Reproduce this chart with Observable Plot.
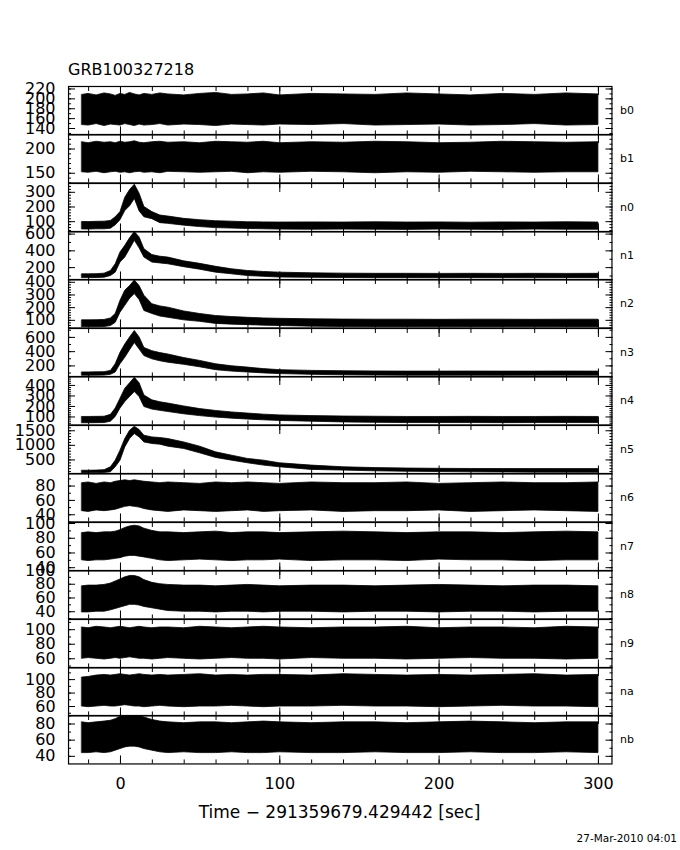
<!DOCTYPE html>
<html><head><meta charset="utf-8">
<script src="https://cdn.jsdelivr.net/npm/d3@7"></script>
<script src="https://cdn.jsdelivr.net/npm/@observablehq/plot@0.6"></script>
<style>
body{margin:0;background:#fff;}
#wrap{position:relative;width:680px;height:850px;background:#fff;overflow:hidden;font-family:"DejaVu Sans",sans-serif;color:#000;}
#wrap svg{position:absolute;left:0;overflow:visible;background:transparent;}
.txt{position:absolute;white-space:nowrap;line-height:1;color:#000;}
</style></head><body><div id="wrap"></div>
<script>
// ---- data ----
const title = "GRB100327218";
const xTitle = "Time − 291359679.429442 [sec]";
const stamp = "27-Mar-2010 04:01";
const T = [-24, -20, -15, -10, -6, -3, 0, 3, 6, 9, 12, 15, 20, 25, 30, 40, 50, 60, 70, 80, 90, 100, 120, 140, 160, 180, 200, 220, 240, 260, 280, 300];
const xMinorTicks = [-20, 0, 20, 40, 60, 80, 100, 120, 140, 160, 180, 200, 220, 240, 260, 280, 300];
const xMajorTicks = [0, 100, 200, 300];
const detectors = ["b0", "b1", "n0", "n1", "n2", "n3", "n4", "n5", "n6", "n7", "n8", "n9", "na", "nb"];

const b0Hi = [208, 210, 207, 211, 209, 206, 210, 208, 212, 209, 207, 210, 208, 211, 209, 207, 210, 212, 208, 209, 211, 207, 210, 209, 208, 211, 209, 207, 210, 208, 211, 209];
const b0Lo = [147, 146, 149, 145, 148, 147, 146, 149, 147, 145, 148, 146, 147, 149, 146, 148, 147, 145, 148, 147, 146, 148, 147, 149, 146, 147, 148, 146, 147, 149, 146, 147];
const b1Hi = [214, 212, 215, 213, 214, 212, 215, 213, 214, 216, 213, 212, 214, 215, 213, 214, 212, 215, 214, 213, 215, 212, 214, 213, 215, 214, 212, 213, 215, 214, 213, 214];
const b1Lo = [152, 151, 153, 150, 152, 153, 151, 152, 150, 152, 153, 151, 152, 150, 153, 152, 151, 152, 153, 150, 152, 151, 153, 152, 150, 152, 151, 153, 152, 151, 152, 152];
const n0Hi = [98, 97, 99, 100, 105, 130, 165, 263, 315, 352, 290, 200, 165, 142, 135, 119, 110, 103, 100, 96, 95, 94, 95, 94, 96, 94, 95, 93, 95, 94, 96, 94];
const n0Lo = [47, 46, 48, 48, 52, 75, 110, 172, 205, 255, 170, 130, 117, 90, 85, 73, 63, 56, 53, 50, 48, 46, 45, 46, 45, 44, 46, 45, 44, 46, 45, 45];
const n1Hi = [120, 120, 122, 128, 160, 240, 380, 460, 550, 625, 560, 420, 350, 330, 320, 275, 245, 210, 180, 160, 148, 140, 132, 128, 126, 126, 125, 126, 125, 126, 125, 126];
const n1Lo = [75, 75, 76, 80, 100, 140, 260, 320, 420, 520, 430, 320, 260, 250, 240, 205, 175, 140, 120, 100, 90, 82, 78, 76, 74, 74, 73, 74, 74, 73, 74, 74];
const n2Hi = [100, 100, 101, 103, 115, 150, 254, 334, 370, 414, 370, 294, 227, 210, 200, 170, 150, 134, 126, 120, 115, 112, 108, 106, 105, 105, 104, 105, 105, 104, 105, 105];
const n2Lo = [45, 45, 46, 47, 55, 80, 160, 214, 270, 307, 260, 174, 150, 130, 120, 100, 88, 72, 66, 62, 58, 55, 50, 47, 46, 46, 45, 46, 46, 45, 46, 46];
const n3Hi = [108, 108, 110, 112, 130, 223, 383, 500, 600, 690, 600, 452, 407, 380, 360, 310, 270, 223, 195, 176, 155, 140, 130, 125, 122, 120, 120, 121, 120, 120, 121, 120];
const n3Lo = [62, 62, 63, 64, 75, 107, 223, 314, 420, 521, 430, 338, 292, 265, 245, 215, 180, 140, 120, 107, 95, 85, 75, 68, 64, 62, 62, 62, 61, 62, 62, 62];
const n4Hi = [100, 100, 101, 102, 120, 180, 274, 368, 420, 473, 420, 305, 258, 240, 227, 200, 175, 157, 143, 132, 122, 115, 108, 104, 102, 100, 100, 101, 100, 100, 101, 100];
const n4Lo = [40, 40, 41, 42, 55, 100, 180, 242, 290, 337, 290, 195, 170, 158, 147, 125, 108, 94, 84, 75, 68, 62, 55, 48, 44, 42, 42, 42, 41, 42, 42, 42];
const n5Hi = [130, 130, 135, 150, 248, 476, 818, 1216, 1500, 1637, 1524, 1330, 1272, 1250, 1216, 1100, 954, 760, 647, 534, 476, 385, 306, 248, 220, 205, 195, 190, 188, 186, 185, 185];
const n5Lo = [45, 45, 48, 55, 77, 248, 476, 930, 1216, 1387, 1272, 1100, 1046, 1022, 954, 875, 726, 568, 476, 385, 306, 248, 159, 135, 110, 95, 85, 75, 70, 65, 62, 60];
const n6Hi = [84, 85, 83, 85, 84, 86, 87, 88, 87, 88, 87, 86, 85, 84, 85, 84, 83, 85, 84, 85, 84, 83, 85, 84, 84, 85, 83, 84, 85, 84, 84, 85];
const n6Lo = [45, 44, 46, 45, 46, 47, 49, 51, 52, 51, 50, 48, 46, 45, 44, 46, 45, 44, 45, 46, 44, 45, 46, 44, 45, 45, 46, 44, 45, 46, 45, 44];
const n7Hi = [87, 88, 87, 88, 88, 89, 91, 94, 96, 97, 96, 93, 90, 88, 88, 87, 88, 89, 87, 88, 88, 87, 88, 89, 88, 87, 88, 88, 87, 88, 89, 88];
const n7Lo = [50, 49, 50, 50, 51, 52, 53, 55, 56, 56, 55, 54, 52, 50, 49, 50, 51, 50, 49, 50, 50, 51, 49, 50, 50, 49, 51, 50, 50, 49, 50, 50];
const n8Hi = [77, 78, 78, 79, 81, 84, 87, 90, 92, 92, 90, 86, 82, 80, 79, 78, 78, 77, 78, 79, 78, 77, 78, 78, 77, 78, 79, 78, 77, 78, 78, 77];
const n8Lo = [39, 39, 40, 40, 42, 44, 46, 48, 50, 50, 49, 47, 45, 43, 41, 40, 40, 39, 40, 40, 39, 40, 40, 39, 40, 40, 39, 40, 40, 39, 40, 40];
const n9Hi = [103, 102, 104, 103, 102, 103, 104, 103, 102, 103, 104, 103, 102, 103, 103, 102, 104, 103, 102, 103, 104, 103, 102, 103, 103, 104, 102, 103, 103, 102, 104, 103];
const n9Lo = [60, 61, 60, 59, 60, 61, 60, 61, 62, 61, 60, 60, 59, 60, 61, 60, 59, 60, 61, 60, 60, 59, 61, 60, 60, 59, 60, 61, 60, 60, 59, 60];
const naHi = [103, 104, 106, 107, 106, 107, 108, 107, 106, 107, 108, 107, 106, 107, 106, 107, 108, 106, 107, 106, 107, 107, 106, 108, 107, 106, 107, 106, 107, 108, 106, 107];
const naLo = [60, 59, 60, 61, 60, 60, 61, 62, 61, 60, 60, 59, 60, 61, 60, 59, 60, 60, 61, 60, 59, 60, 60, 61, 60, 60, 59, 60, 61, 60, 60, 59];
const nbHi = [82, 81, 82, 83, 84, 86, 89, 90, 90, 90, 90, 88, 85, 83, 82, 81, 82, 82, 81, 82, 83, 82, 81, 82, 82, 81, 82, 83, 82, 81, 82, 82];
const nbLo = [44, 44, 45, 44, 45, 47, 49, 51, 52, 52, 51, 49, 47, 45, 44, 45, 44, 44, 45, 44, 44, 45, 44, 44, 45, 44, 44, 45, 44, 44, 45, 44];

// y-axis ranges and tick labels per detector
const yDomains = [[127, 225], [130, 230], [30, 360], [53, 631], [40, 422], [45, 725], [24, 485], [20, 1680], [30, 97.5], [35.6, 101.4], [29.5, 100], [47.4, 114], [46, 118], [30.6, 90.5]];
const yLabels = [[140, 160, 180, 200, 220], [150, 200], [100, 200, 300], [200, 400, 600], [100, 200, 300, 400], [200, 400, 600], [100, 200, 300, 400], [500, 1000, 1500], [40, 60, 80], [40, 60, 80, 100], [40, 60, 80, 100], [60, 80, 100], [60, 80, 100], [40, 60, 80]];
const yMinorStep = [10, 10, 20, 100, 20, 100, 20, 100, 10, 10, 10, 10, 10, 10];

const his = [b0Hi, b1Hi, n0Hi, n1Hi, n2Hi, n3Hi, n4Hi, n5Hi, n6Hi, n7Hi, n8Hi, n9Hi, naHi, nbHi];
const los = [b0Lo, b1Lo, n0Lo, n1Lo, n2Lo, n3Lo, n4Lo, n5Lo, n6Lo, n7Lo, n8Lo, n9Lo, naLo, nbLo];

// ---- layout ----
const wrap = document.getElementById("wrap");
const top0 = 85.6, ph = 48.45, pad = 12;
const xDomain = [-32.6, 308.5];
const blank = () => "";
const plain = d3.format("d");

detectors.forEach((name, i) => {
  const last = i === detectors.length - 1;
  const mb = last ? 50 : pad;
  const rows = T.map((t, k) => ({t, hi: his[i][k], lo: los[i][k]}));
  const [d0, d1] = yDomains[i];
  const step = yMinorStep[i];
  const minor = d3.range(Math.ceil(d0 / step) * step, d1 + 1e-9, step);
  const major = yLabels[i];
  const marks = [
    Plot.areaY(rows, {x: "t", y1: "lo", y2: "hi", fill: "black", stroke: "black", strokeWidth: 0.8, clip: true}),
    Plot.axisY({anchor: "left", ticks: minor, tickSize: -3, tickFormat: blank, label: null}),
    Plot.axisY({anchor: "left", ticks: major, tickSize: -7, tickFormat: blank, label: null}),
    Plot.axisY({anchor: "right", ticks: minor, tickSize: -3, tickFormat: blank, label: null}),
    Plot.axisY({anchor: "right", ticks: major, tickSize: -7, tickFormat: blank, label: null}),
    Plot.axisY({anchor: "left", ticks: major, tickSize: 0, tickPadding: 13, fontSize: 16, tickFormat: plain, label: null}),
    Plot.axisX({anchor: "top", ticks: xMinorTicks, tickSize: -4, tickFormat: blank, label: null}),
    Plot.axisX({anchor: "top", ticks: xMajorTicks, tickSize: -8, tickFormat: blank, label: null}),
    Plot.axisX({anchor: "bottom", ticks: xMinorTicks, tickSize: -4, tickFormat: blank, label: null}),
    Plot.axisX({anchor: "bottom", ticks: xMajorTicks, tickSize: -8, tickFormat: blank, label: null}),
    Plot.frame({stroke: "black", strokeWidth: 1.2}),
    Plot.text([name], {frameAnchor: "right", dx: 8, textAnchor: "start", fontSize: 11})
  ];
  if (last) marks.push(Plot.axisX({anchor: "bottom", ticks: xMajorTicks, tickSize: 0, tickPadding: 14, fontSize: 16, tickFormat: plain, label: null}));
  const svg = Plot.plot({
    width: 680,
    height: ph + pad + mb,
    marginLeft: 68,
    marginRight: 68.5,
    marginTop: pad,
    marginBottom: mb,
    x: {domain: xDomain, label: null},
    y: {domain: yDomains[i], label: null},
    style: {background: "transparent", overflow: "visible", fontFamily: "DejaVu Sans, sans-serif", color: "black"},
    marks
  });
  svg.style.top = (top0 + i * ph - pad) + "px";
  wrap.append(svg);
});

function addText(str, css) {
  const d = document.createElement("div");
  d.className = "txt";
  d.textContent = str;
  Object.assign(d.style, css);
  wrap.append(d);
}
addText(title, {left: "68px", top: "61.5px", fontSize: "16px"});
addText(xTitle, {left: "0px", width: "679px", textAlign: "center", top: "804px", fontSize: "17px"});
addText(stamp, {right: "3px", top: "833px", fontSize: "10.5px"});
</script></body></html>
